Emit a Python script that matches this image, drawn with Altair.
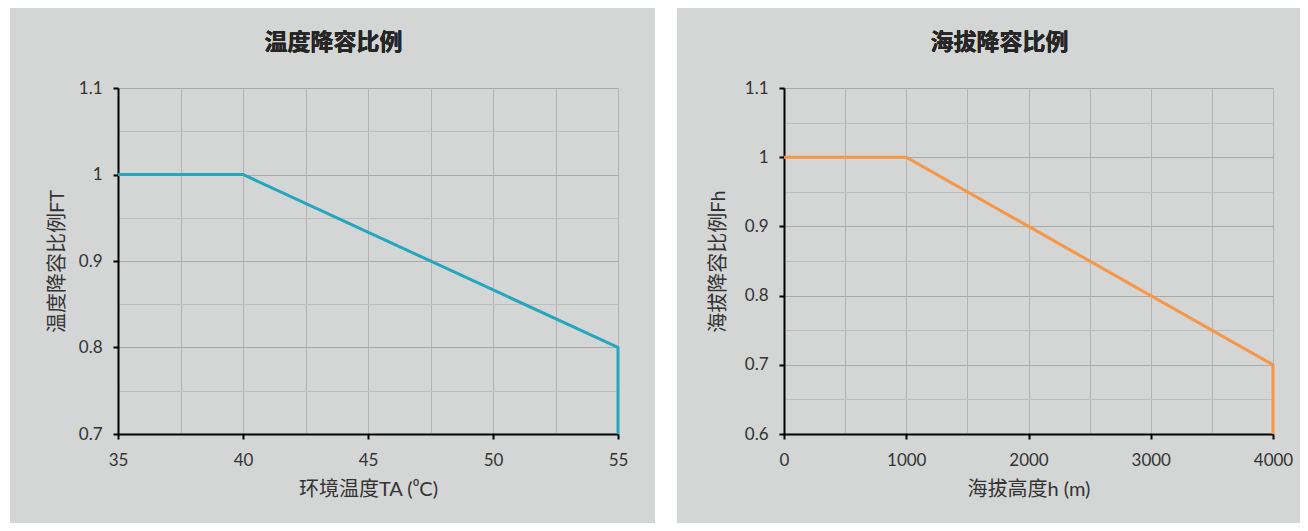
import altair as alt
import pandas as pd

# ---- data ----
temp_x = [35, 40, 55, 55]
temp_y = [1.0, 1.0, 0.8, 0.7]
alt_x = [0, 1000, 4000, 4000]
alt_y = [1.0, 1.0, 0.7, 0.6]

temp_xgrid = [35, 37.5, 40, 42.5, 45, 47.5, 50, 52.5, 55]
temp_ygrid = [0.7, 0.75, 0.8, 0.85, 0.9, 0.95, 1.0, 1.05, 1.1]
alt_xgrid = [0, 500, 1000, 1500, 2000, 2500, 3000, 3500, 4000]
alt_ygrid = [0.6, 0.65, 0.7, 0.75, 0.8, 0.85, 0.9, 0.95, 1.0, 1.05, 1.1]

GRAY = "#d4d5d5"
NUMFONT = "Lato, Noto Sans CJK SC"
CJK = "Noto Sans CJK SC"
TXT = "#333333"


def cond(test, a, b):
    return {"condition": {"test": test, "value": a}, "value": b}


def panel(xs, ys, xgrid, ygrid, xdom, ydom, xmajor, color, title,
          xtitle, ytitle, width, height, ytp, bg_left, bg_right, strips):
    df = pd.DataFrame({"x": xs, "y": ys, "o": list(range(len(xs)))})
    ytest = "round(datum.value*100) % 10 == 0"
    xtest = f"datum.value % {xmajor} == 0"
    xaxis = alt.Axis(
        values=xgrid, format="d", labelExpr=f"{xtest} ? datum.label : ''",
        title=xtitle, titleFont=NUMFONT, titleFontSize=20, titleFontWeight="normal",
        titleColor=TXT, titlePadding=11, labelFlush=False, labelOverlap=False,
        labelFont=NUMFONT, labelFontSize=17, labelColor=TXT, labelPadding=13,
        tickColor=cond(xtest, "black", "transparent"), tickSize=5, tickWidth=2,
        domainColor="black", domainWidth=2,
        grid=True, gridColor="#b3b3b3", gridWidth=1,
    )
    yaxis = alt.Axis(
        values=ygrid, format="~g", labelExpr=f"{ytest} ? datum.label : ''",
        title=ytitle, titleFont=NUMFONT, titleFontSize=20, titleFontWeight="normal",
        titleColor=TXT, titlePadding=ytp, labelFlush=False, labelOverlap=False,
        labelFont=NUMFONT, labelFontSize=17, labelColor=TXT, labelPadding=11,
        tickColor=cond(ytest, "black", "transparent"), tickSize=5, tickWidth=2,
        domainColor="black", domainWidth=2,
        grid=True, gridColor=cond(ytest, "#a9a9a9", "#bdbdbd"), gridWidth=1,
    )
    base = alt.Chart(df)
    # invisible spacer defining the panel's extent
    spacer = base.mark_rect(opacity=0).encode(
        x=alt.value(-bg_left), x2=alt.value(width + bg_right),
        y=alt.value(-80), y2=alt.value(height + 89),
    )
    layers = [spacer]
    for (a, b) in strips:
        layers.append(base.mark_rect(color="white").encode(
            x=alt.value(a), x2=alt.value(b),
            y=alt.value(-80), y2=alt.value(height + 89),
        ))
    line = base.mark_line(color=color, strokeWidth=3, strokeJoin="miter").encode(
        x=alt.X("x:Q", scale=alt.Scale(domain=xdom, nice=False, zero=False), axis=xaxis),
        y=alt.Y("y:Q", scale=alt.Scale(domain=ydom, nice=False, zero=False), axis=yaxis),
        order="o:Q",
    )
    ttl = base.mark_text(font=CJK, fontSize=23, fontWeight="bold", color="#262626",
                         baseline="middle", align="center").encode(
        x=alt.value(215.5), y=alt.value(-45), text=alt.value(title)
    )
    layers += [line, ttl]
    return alt.layer(*layers).properties(width=width, height=height)


left = panel(temp_x, temp_y, temp_xgrid, temp_ygrid, [35, 55], [0.7, 1.1], 5,
             "#23a7be", "温度降容比例", "环境温度TA (⁰C)", "温度降容比例FT",
             500, 346, 11, 110, 59, [(-110, -108), (537, 559)])
right = panel(alt_x, alt_y, alt_xgrid, alt_ygrid, [0, 4000], [0.6, 1.1], 1000,
              "#f79646", "海拔降容比例", "海拔高度h (m)", "海拔降容比例Fh",
              489, 346, 16, 107, 27, [])

chart = alt.hconcat(left, right, spacing=0).configure(
    background=GRAY,
    padding={"left": 0, "top": 0, "right": 0, "bottom": 0},
).configure_view(stroke=None)

chart.save("out.html", embed_options={"renderer": "svg", "actions": False})
